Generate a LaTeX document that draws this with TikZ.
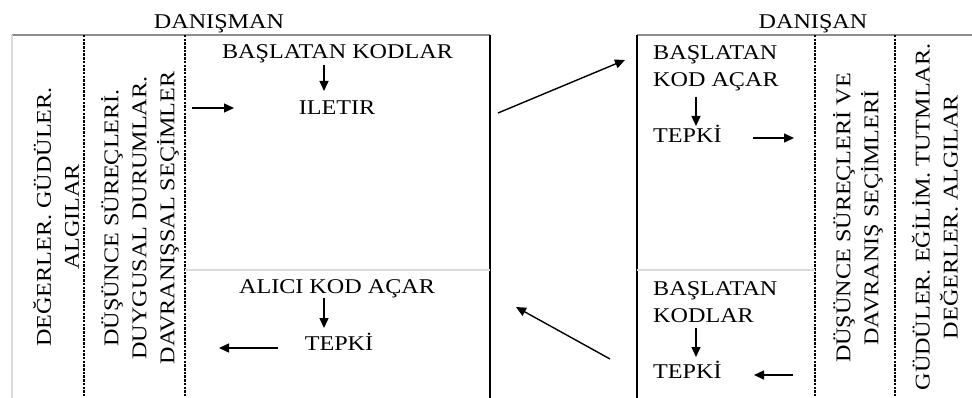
\documentclass[tikz,border=0pt]{standalone}
\usepackage{fontspec}
\setmainfont{Liberation Serif}[FakeStretch=1.15]
\usetikzlibrary{arrows.meta}
\definecolor{rule}{gray}{0.55}
\definecolor{faint}{gray}{0.86}
\begin{document}
\begin{tikzpicture}[x=1pt,y=-1pt,
  lbl/.style={inner sep=0pt,font=\fontsize{21}{27}\selectfont},
  vlbl/.style={inner sep=0pt,rotate=90,align=center,font=\fontsize{21}{28}\selectfont},
  frame/.style={line width=1.5pt,black},
  divider/.style={line width=1.3pt,black,dash pattern=on 2.5pt off 1.2pt},
  topline/.style={line width=1.2pt,rule},
  midline/.style={line width=1.2pt,faint},
  arr/.style={line width=1.4pt,-{Triangle[length=10pt,width=9pt]}}]
\useasboundingbox (0,0) rectangle (972,398);
\fill[white] (0,0) rectangle (972,398);

% --- counsellor panel (left) ---
\draw[topline] (12,35) -- (490,35);
\draw[line width=1.2pt,faint] (12,35) -- (12,398);
\draw[divider] (84,35) -- (84,398);
\draw[divider] (185,35) -- (185,398);
\draw[frame] (490,35) -- (490,398);
\draw[midline] (185,270) -- (490,270);

% --- client panel (right) ---
\draw[topline] (637,35) -- (972,35);
\draw[frame] (637,35) -- (637,398);
\draw[divider] (815,35) -- (815,398);
\draw[divider] (895,35) -- (895,398);
\draw[midline] (637,270) -- (815,270);

% headings
\node[lbl,anchor=base] (dnsm) at (219,29) {DANIŞMAN};
\node[lbl,anchor=base] (dnsn) at (813,29) {DANIŞAN};

% vertical column labels
\node[vlbl] (valL) at (56,217) {DEĞERLER. GÜDÜLER.\\ALGILAR};
\node[vlbl] (thoL) at (140,218) {DÜŞÜNCE SÜREÇLERİ.\\DUYGUSAL DURUMLAR.\\DAVRANIŞSAL SEÇİMLER};
\node[vlbl] (thoR) at (858,218) {DÜŞÜNCE SÜREÇLERİ VE\\DAVRANIŞ SEÇİMLERİ};
\node[vlbl] (valR) at (935,217) {GÜDÜLER. EĞİLİM. TUTMLAR.\\DEĞERLER. ALGILAR};

% left panel texts
\node[lbl,anchor=base] (initL) at (337.5,59) {BAŞLATAN KODLAR};
\node[lbl,anchor=base] (sendL) at (337,115) {ILETIR};
\node[lbl,anchor=base] (recvL) at (337,294) {ALICI KOD AÇAR};
\node[lbl,anchor=base] (respL) at (339,350) {TEPKİ};

% right panel texts (base = baseline of the last line)
\node[lbl,anchor=base west,align=left] (decR) at (653,87) {BAŞLATAN\\KOD AÇAR};
\node[lbl,anchor=base west] (respR) at (653,143) {TEPKİ};
\node[lbl,anchor=base west,align=left] (initR) at (653,322) {BAŞLATAN\\KODLAR};
\node[lbl,anchor=base west] (respR2) at (653,378) {TEPKİ};

% arrow end points
\coordinate (l1a) at (324,65);  \coordinate (l1b) at (324,91);
\coordinate (l2a) at (324,298); \coordinate (l2b) at (324,328);
\coordinate (h1a) at (192,108); \coordinate (h1b) at (234,108);
\coordinate (h2a) at (278,348); \coordinate (h2b) at (219,348);
\coordinate (r1a) at (696,97);  \coordinate (r1b) at (696,126);
\coordinate (r2a) at (696,328); \coordinate (r2b) at (696,357);
\coordinate (h3a) at (753,138); \coordinate (h3b) at (794,138);
\coordinate (h4a) at (793,375); \coordinate (h4b) at (754,375);
\coordinate (d1a) at (498,113); \coordinate (d1b) at (625,60);
\coordinate (d2a) at (610,359); \coordinate (d2b) at (516,307);

\draw[arr] (l1a) -- (l1b);
\draw[arr] (l2a) -- (l2b);
\draw[arr] (h1a) -- (h1b);
\draw[arr] (h2a) -- (h2b);
\draw[arr] (r1a) -- (r1b);
\draw[arr] (r2a) -- (r2b);
\draw[arr] (h3a) -- (h3b);
\draw[arr] (h4a) -- (h4b);
\draw[arr] (d1a) -- (d1b);
\draw[arr] (d2a) -- (d2b);
\end{tikzpicture}
\end{document}
